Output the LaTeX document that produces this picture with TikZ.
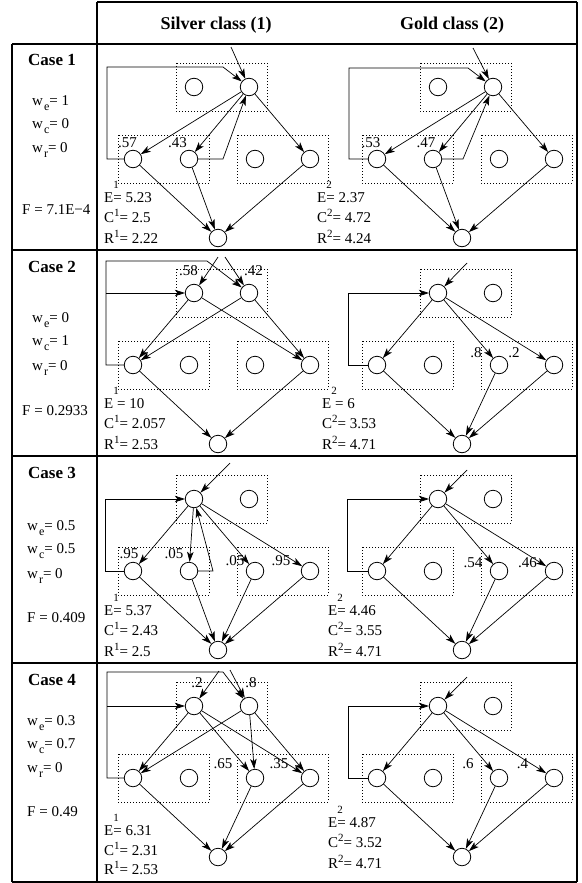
\documentclass[tikz,border=0pt]{standalone}
\usepackage{fontspec}
\setmainfont{Liberation Serif}
\usepackage{tikz}
\usetikzlibrary{calc,arrows.meta}
\definecolor{inkBlack}{RGB}{0,0,0}
\tikzset{
  ring/.style={circle,draw=inkBlack,line width=0.8pt,minimum size=17.5pt,inner sep=0pt},
  fence/.style={draw=inkBlack,line width=0.8pt,dash pattern=on 0.8pt off 2.2pt},
  flow/.style={draw=inkBlack,line width=0.7pt,-{Stealth[length=10pt,width=6.5pt,inset=2.5pt]}},
  wire/.style={draw=inkBlack,line width=1.1pt},
  capt/.style={font=\bfseries\fontsize{17}{20}\selectfont,anchor=base,inner sep=0pt},
  head/.style={font=\bfseries\fontsize{18}{21}\selectfont,anchor=base,inner sep=0pt},
  txt/.style={font=\fontsize{15}{18}\selectfont,anchor=base west,inner sep=0pt},
  prob/.style={font=\fontsize{15}{18}\selectfont,anchor=base,inner sep=0pt}
}
\newcommand{\Sup}[1]{\rlap{\smash{\raisebox{14pt}{\fontsize{11}{11}\selectfont #1}}}}
\newcommand{\SupW}[1]{\smash{\raisebox{6pt}{\fontsize{11}{11}\selectfont #1}}}
\newcommand{\Sub}[1]{\kern1pt\smash{\raisebox{-5pt}{\fontsize{12}{12}\selectfont #1}}}
\newcommand{\Graph}[1]{%
  \draw[fence] (176,19) rectangle (267,67);
  \draw[fence] (118,91) rectangle (209,139);
  \draw[fence] (237,91) rectangle (328,139);
  \node[ring] (#1TL) at (194,43) {};
  \node[ring] (#1TR) at (249,43) {};
  \node[ring] (#1M1) at (133,115) {};
  \node[ring] (#1M2) at (189,115) {};
  \node[ring] (#1M3) at (255,115) {};
  \node[ring] (#1M4) at (310,115) {};
  \node[ring] (#1B) at (218,194) {};}

\begin{document}
\begin{tikzpicture}[x=1pt,y=-1pt]
\useasboundingbox (0,0) rectangle (581,883);
\draw[wire] (97,2) -- (577,2);
\draw[wire] (97,2) -- (97,882);
\draw[wire] (577,2) -- (577,882);
\draw[wire] (12,44) -- (12,882);
\draw[wire] (12,882) -- (577,882);
\draw[draw=inkBlack,line width=2.4pt] (12,44) -- (577,44);
\draw[draw=inkBlack,line width=1.6pt] (12,250) -- (577,250);
\draw[draw=inkBlack,line width=1.6pt] (12,456) -- (577,456);
\draw[draw=inkBlack,line width=1.6pt] (12,663) -- (577,663);
\node[head] (hS) at (216,30) {Silver class (1)};
\node[head] (hG) at (452,30) {Gold class (2)};

\begin{scope}[shift={(0,44)}]
\node[capt] (k1) at (52,22) {Case 1};
\node[txt] (k1e) at (32,61) {w\Sub{e}= 1};
\node[txt] (k1c) at (32,84) {w\Sub{c}= 0};
\node[txt] (k1r) at (32,108) {w\Sub{r}= 0};
\node[txt] (k1f) at (22,170) {F = 7.1E−4};
\Graph{a}
\coordinate (aIn) at (231,3);
\draw[flow] (aIn) -- (aTR);
\draw[flow] (aM1.west) -| (107,23) -- (223,23) -- (aTR);
\draw[flow] (aTR) -- (aM1);
\draw[flow] (aTR) -- (aM2);
\draw[flow] (aTR) -- (aM4);
\draw[flow] (aM2.east) -- (223,115) -- (aTR);
\draw[flow] (aM1) -- (aB);
\draw[flow] (aM2) -- (aB);
\draw[flow] (aM4) -- (aB);
\node[prob] (aP1) at (127.5,103) {.57};
\node[prob] (aP2) at (177.5,103) {.43};
\node[txt] (aE) at (104,158) {E\Sup{1}= 5.23};
\node[txt] (aC) at (104,178.5) {C\SupW{1}= 2.5};
\node[txt] (aR) at (104,199) {R\SupW{1}= 2.22};
\node[txt] (bE) at (317,158) {E\Sup{2}= 2.37};
\node[txt] (bC) at (317,178.5) {C\SupW{2}= 4.72};
\node[txt] (bR) at (317,199) {R\SupW{2}= 4.24};
\begin{scope}[shift={(244,0)}]
\Graph{b}
\coordinate (bIn) at (229,4);
\draw[flow] (bIn) -- (bTR);
\draw[flow] (bM1.west) -| (105,24) -- (224,24) -- (bTR);
\draw[flow] (bTR) -- (bM1);
\draw[flow] (bTR) -- (bM2);
\draw[flow] (bTR) -- (bM4);
\draw[flow] (bM2.east) -- (219,115) -- (bTR);
\draw[flow] (bM1) -- (bB);
\draw[flow] (bM2) -- (bB);
\draw[flow] (bM4) -- (bB);
\node[prob] (bP1) at (127,103) {.53};
\node[prob] (bP2) at (182,103) {.47};
\end{scope}
\end{scope}

\begin{scope}[shift={(0,250)}]
\node[capt] (k2) at (52,22) {Case 2};
\node[txt] (k2e) at (32,72) {w\Sub{e}= 0};
\node[txt] (k2c) at (32,95) {w\Sub{c}= 1};
\node[txt] (k2r) at (32,120) {w\Sub{r}= 0};
\node[txt] (k2f) at (22,165) {F = 0.2933};
\Graph{c}
\coordinate (cIn1) at (218,7);
\coordinate (cIn2) at (225,7);
\coordinate (cT) at (106,43);
\draw[flow] (cIn1) -- (cTL);
\draw[flow] (cIn2) -- (cTR);
\draw[flow] (cM1.west) -| (106,11) -- (207,11) -- (cTR);
\draw[flow] (cT) -- (cTL);
\draw[flow] (cTL) -- (cM1);
\draw[flow] (cTL) -- (cM4);
\draw[flow] (cTR) -- (cM1);
\draw[flow] (cTR) -- (cM4);
\draw[flow] (cM1) -- (cB);
\draw[flow] (cM4) -- (cB);
\node[prob] (cP1) at (188.5,25) {.58};
\node[prob] (cP2) at (253.5,25) {.42};
\node[txt] (cE) at (104,158) {E\Sup{1} = 10};
\node[txt] (cC) at (104,178.5) {C\SupW{1}= 2.057};
\node[txt] (cR) at (104,199) {R\SupW{1}= 2.53};
\node[txt] (dE) at (322,158) {E\Sup{2} = 6};
\node[txt] (dC) at (322,178.5) {C\SupW{2}= 3.53};
\node[txt] (dR) at (322,199) {R\SupW{2}= 4.71};
\begin{scope}[shift={(244,0)}]
\Graph{d}
\coordinate (dIn) at (223,13);
\draw[flow] (dIn) -- (dTL);
\draw[flow] (dM1.west) -| (104,43) -- (dTL);
\draw[flow] (dTL) -- (dM1);
\draw[flow] (dTL) -- (dM3);
\draw[flow] (dTL) -- (dM4);
\draw[flow] (dM1) -- (dB);
\draw[flow] (dM3) -- (dB);
\draw[flow] (dM4) -- (dB);
\node[prob] (dP1) at (232,107) {.8};
\node[prob] (dP2) at (270,107) {.2};
\end{scope}
\end{scope}

\begin{scope}[shift={(0,456)}]
\node[capt] (k3) at (52,22) {Case 3};
\node[txt] (k3e) at (27,74) {w\Sub{e}= 0.5};
\node[txt] (k3c) at (27,97) {w\Sub{c}= 0.5};
\node[txt] (k3r) at (27,122) {w\Sub{r}= 0};
\node[txt] (k3f) at (27,166) {F = 0.409};
\Graph{e}
\coordinate (eIn) at (230,7);
\draw[flow] (eIn) -- (eTL);
\draw[flow] (eM1.west) -| (105,43) -- (eTL);
\draw[flow] (eTL) -- (eM1);
\draw[flow] (eTL) -- (eM2);
\draw[flow] (eTL) -- (eM3);
\draw[flow] (eTL) -- (eM4);
\draw[flow] (eM2.east) -- (213,115) -- (eTL);
\draw[flow] (eM1) -- (eB);
\draw[flow] (eM2) -- (eB);
\draw[flow] (eM3) -- (eB);
\draw[flow] (eM4) -- (eB);
\node[prob] (eP1) at (129,102) {.95};
\node[prob] (eP2) at (174,102) {.05};
\node[prob] (eP3) at (235,109) {.05};
\node[prob] (eP4) at (281,109) {.95};
\node[txt] (eE) at (104,159) {E\Sup{1}= 5.37};
\node[txt] (eC) at (104,179.5) {C\SupW{1}= 2.43};
\node[txt] (eR) at (104,200) {R\SupW{1}= 2.5};
\node[txt] (fE) at (328,159) {E\Sup{2}= 4.46};
\node[txt] (fC) at (328,179.5) {C\SupW{2}= 3.55};
\node[txt] (fR) at (328,200) {R\SupW{2}= 4.71};
\begin{scope}[shift={(244,0)}]
\Graph{f}
\coordinate (fIn) at (223,14);
\draw[flow] (fIn) -- (fTL);
\draw[flow] (fM1.west) -| (103,43) -- (fTL);
\draw[flow] (fTL) -- (fM1);
\draw[flow] (fTL) -- (fM3);
\draw[flow] (fTL) -- (fM4);
\draw[flow] (fM1) -- (fB);
\draw[flow] (fM3) -- (fB);
\draw[flow] (fM4) -- (fB);
\node[prob] (fP1) at (229,111) {.54};
\node[prob] (fP2) at (283.5,111) {.46};
\end{scope}
\end{scope}

\begin{scope}[shift={(0,663)}]
\node[capt] (k4) at (52,22) {Case 4};
\node[txt] (k4e) at (27,62) {w\Sub{e}= 0.3};
\node[txt] (k4c) at (27,85) {w\Sub{c}= 0.7};
\node[txt] (k4r) at (27,109) {w\Sub{r}= 0};
\node[txt] (k4f) at (27,153) {F = 0.49};
\Graph{g}
\coordinate (gIn1) at (219,8);
\coordinate (gIn2) at (230,7);
\coordinate (gT) at (107,43);
\draw[flow] (gIn1) -- (gTL);
\draw[flow] (gIn2) -- (gTR);
\draw[flow] (gM1.west) -| (107,9) -- (223,9) -- (gTR);
\draw[flow] (gT) -- (gTL);
\draw[flow] (gTL) -- (gM1);
\draw[flow] (gTL) -- (gM3);
\draw[flow] (gTL) -- (gM4);
\draw[flow] (gTR) -- (gM1);
\draw[flow] (gTR) -- (gM3);
\draw[flow] (gTR) -- (gM4);
\draw[flow] (gM1) -- (gB);
\draw[flow] (gM3) -- (gB);
\draw[flow] (gM4) -- (gB);
\node[prob] (gP1) at (197,24) {.2};
\node[prob] (gP2) at (251,24) {.8};
\node[prob] (gP3) at (223,105) {.65};
\node[prob] (gP4) at (279,105) {.35};
\node[txt] (gE) at (104,172) {E\Sup{1}= 6.31};
\node[txt] (gC) at (104,192) {C\SupW{1}= 2.31};
\node[txt] (gR) at (104,211) {R\SupW{1}= 2.53};
\node[txt] (hE) at (328,164) {E\Sup{2}= 4.87};
\node[txt] (hC) at (328,184) {C\SupW{2}= 3.52};
\node[txt] (hR) at (328,205) {R\SupW{2}= 4.71};
\begin{scope}[shift={(244,0)}]
\Graph{h}
\coordinate (hIn) at (223,14);
\draw[flow] (hIn) -- (hTL);
\draw[flow] (hM1.west) -| (104,43) -- (hTL);
\draw[flow] (hTL) -- (hM1);
\draw[flow] (hTL) -- (hM3);
\draw[flow] (hTL) -- (hM4);
\draw[flow] (hM1) -- (hB);
\draw[flow] (hM3) -- (hB);
\draw[flow] (hM4) -- (hB);
\node[prob] (hP1) at (224,105) {.6};
\node[prob] (hP2) at (278.5,105) {.4};
\end{scope}
\end{scope}
\end{tikzpicture}
\end{document}
